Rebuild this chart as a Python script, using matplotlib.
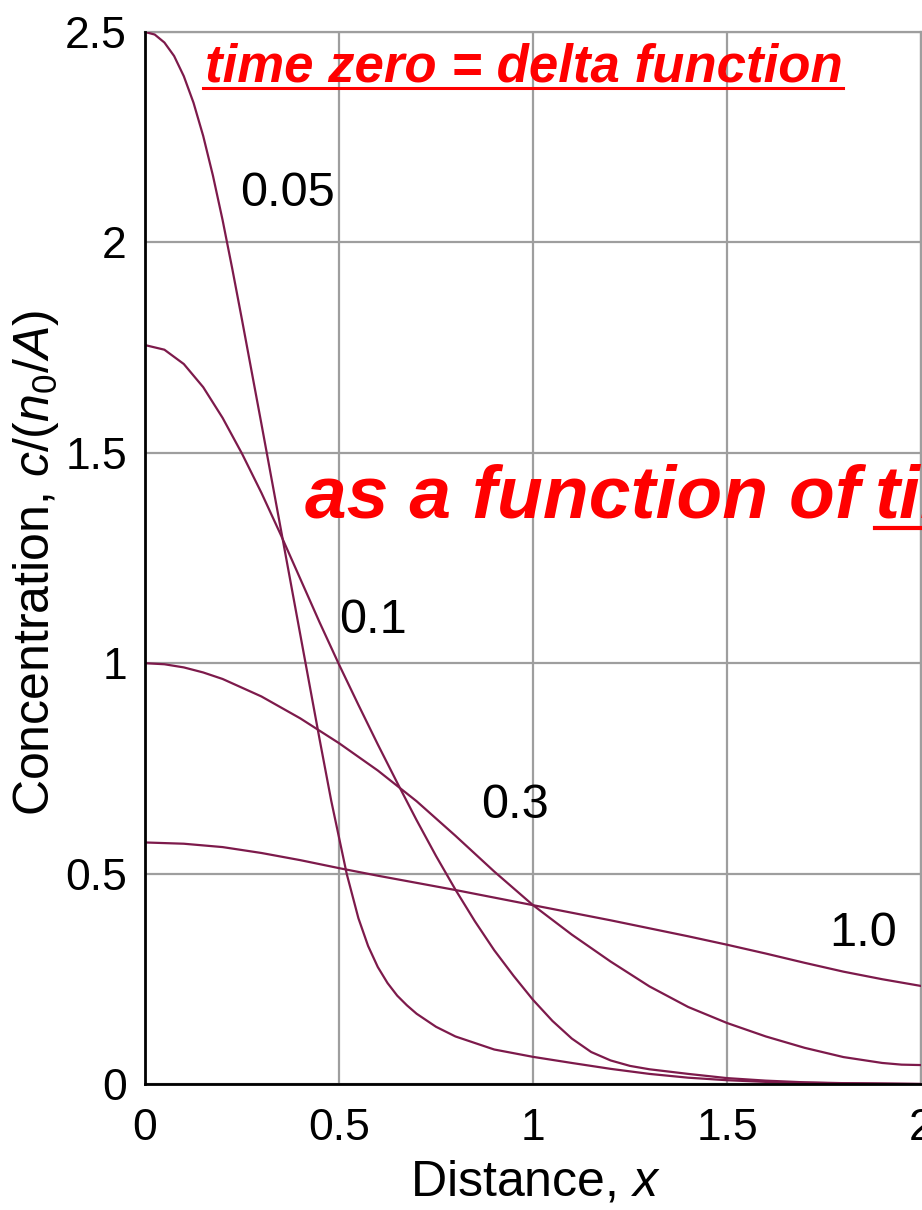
import matplotlib
matplotlib.use("Agg")
import matplotlib.pyplot as plt
from matplotlib.lines import Line2D
from matplotlib.transforms import IdentityTransform

plt.rcParams["font.family"] = ["Liberation Sans", "DejaVu Sans"]
plt.rcParams["mathtext.fontset"] = "custom"
plt.rcParams["mathtext.rm"] = "Liberation Sans"
plt.rcParams["mathtext.it"] = "Liberation Sans:italic"

# concentration profiles, one per time
x_005 = [0, 0.025, 0.05, 0.075, 0.1, 0.125, 0.15, 0.175, 0.2, 0.225, 0.25, 0.3, 0.35, 0.4,
         0.45, 0.48, 0.52, 0.55, 0.575, 0.6, 0.625, 0.65, 0.675, 0.7, 0.75, 0.8, 0.9, 1.0,
         1.1, 1.2, 1.3, 1.4, 1.5, 1.6, 1.7, 1.8, 2.0]
y_005 = [2.5, 2.494, 2.475, 2.443, 2.395, 2.332, 2.253, 2.159, 2.053, 1.937, 1.816, 1.569,
         1.319, 1.069, 0.819, 0.673, 0.499, 0.394, 0.328, 0.278, 0.240, 0.210, 0.187, 0.167,
         0.136, 0.113, 0.082, 0.0645, 0.050, 0.036, 0.024, 0.015, 0.009, 0.005, 0.003,
         0.0015, 0.0]

x_01 = [0, 0.05, 0.1, 0.15, 0.2, 0.25, 0.3, 0.35, 0.4, 0.45, 0.5, 0.55, 0.6, 0.65, 0.7,
        0.75, 0.8, 0.85, 0.9, 0.95, 1.0, 1.05, 1.1, 1.15, 1.2, 1.25, 1.3, 1.4, 1.5, 1.6,
        1.7, 1.8, 2.0]
y_01 = [1.756, 1.745, 1.711, 1.656, 1.583, 1.498, 1.405, 1.305, 1.201, 1.097, 0.997, 0.901,
        0.807, 0.716, 0.627, 0.542, 0.462, 0.387, 0.318, 0.257, 0.200, 0.150, 0.108, 0.076,
        0.056, 0.043, 0.035, 0.024, 0.014, 0.008, 0.004, 0.002, 0.0]

x_03 = [0, 0.05, 0.1, 0.15, 0.2, 0.3, 0.4, 0.5, 0.6, 0.7, 0.8, 0.9, 1.0, 1.1, 1.2, 1.3,
        1.4, 1.5, 1.6, 1.7, 1.8, 1.9, 1.95, 2.0]
y_03 = [1.0, 0.9975, 0.99, 0.978, 0.9625, 0.921, 0.869, 0.81, 0.745, 0.672, 0.59, 0.505,
        0.425, 0.355, 0.291, 0.232, 0.183, 0.145, 0.113, 0.086, 0.064, 0.05, 0.046, 0.045]

x_10 = [0, 0.1, 0.2, 0.3, 0.4, 0.5, 0.6, 0.7, 0.8, 0.9, 1.0, 1.1, 1.2, 1.3, 1.4, 1.5, 1.6,
        1.7, 1.8, 1.9, 2.0]
y_10 = [0.574, 0.571, 0.563, 0.549, 0.532, 0.513, 0.495, 0.478, 0.461, 0.443, 0.425, 0.407,
        0.389, 0.370, 0.351, 0.331, 0.310, 0.288, 0.267, 0.249, 0.233]

curve_labels = ["0.05", "0.1", "0.3", "1.0"]
label_x = [0.367, 0.588, 0.954, 1.851]
label_y = [2.117, 1.101, 0.663, 0.358]

line_color = "#7d1a4b"
red = "#ff0000"

fig = plt.figure(figsize=(9.22, 12.10), dpi=100)
ax = fig.add_axes([145 / 922, 126 / 1210, 776 / 922, 1052 / 1210])

for xs, ys in [(x_005, y_005), (x_01, y_01), (x_03, y_03), (x_10, y_10)]:
    ax.plot(xs, ys, color=line_color, lw=1.6, zorder=3)

for lab, lx, ly in zip(curve_labels, label_x, label_y):
    ax.text(lx, ly, lab, fontsize=35, ha="center", va="center", zorder=4)

ax.set_xlim(0, 2)
ax.set_ylim(0, 2.5)
ax.set_xticks([0, 0.5, 1, 1.5, 2])
ax.set_xticklabels(["0", "0.5", "1", "1.5", "2"])
ax.set_yticks([0, 0.5, 1, 1.5, 2, 2.5])
ax.set_yticklabels(["0", "0.5", "1", "1.5", "2", "2.5"])
ax.tick_params(length=0, labelsize=32)
ax.tick_params(axis="y", pad=13)
ax.tick_params(axis="x", pad=17)

ax.grid(True, color="#9e9e9e", lw=1.6)
ax.set_axisbelow(True)
for s in ["left", "bottom"]:
    ax.spines[s].set_color("black")
    ax.spines[s].set_linewidth(2.0)
    ax.spines[s].set_zorder(5)
for s in ["top", "right"]:
    ax.spines[s].set_color("#9e9e9e")
    ax.spines[s].set_linewidth(1.6)

ax.set_xlabel("Distance, $x$", fontsize=36, va="center")
ax.xaxis.set_label_coords((535 - 145) / 776, (1084 - 1183) / 1052)
ax.set_ylabel("Concentration, $c$/($n_0$/$A$)", fontsize=36, va="center")
ax.yaxis.set_label_coords((36 - 145) / 776, (1084 - 563) / 1052)

# red slide overlays
t1 = fig.text(205 / 922, 1 - 81 / 1210, "time zero = delta function", color=red,
              fontsize=38, fontweight="bold", fontstyle="italic", va="baseline", ha="left")
t2 = fig.text(305 / 922, 1 - 518 / 1210, "as a function of ", color=red,
              fontsize=54, fontweight="bold", fontstyle="italic", va="baseline", ha="left")
t3 = fig.text(875 / 922, 1 - 518 / 1210, "time", color=red,
              fontsize=54, fontweight="bold", fontstyle="italic", va="baseline", ha="left")

fig.canvas.draw()
r = fig.canvas.get_renderer()
bb1 = t1.get_window_extent(r)
bb3 = t3.get_window_extent(r)
fig.add_artist(Line2D([bb1.x0 - 2, bb1.x1], [1210 - 88, 1210 - 88], color=red, lw=2.2,
                      transform=IdentityTransform()))
fig.add_artist(Line2D([bb3.x0, bb3.x1], [1210 - 528, 1210 - 528], color=red, lw=3.0,
                      transform=IdentityTransform()))

fig.savefig("out.png", dpi=100)
